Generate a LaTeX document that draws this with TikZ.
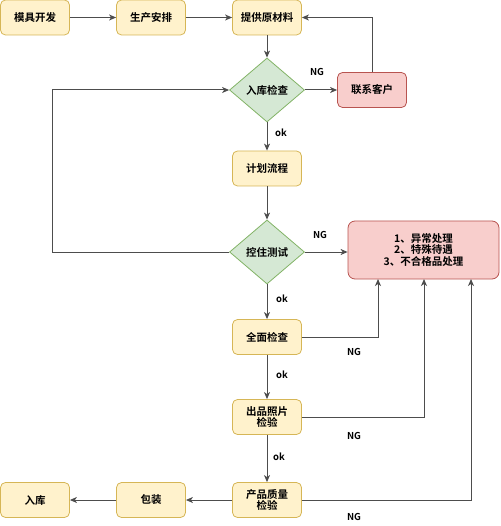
\documentclass[tikz,border=0pt]{standalone}
\usepackage{fontspec}
\setmainfont{Noto Sans CJK SC}[BoldFont={* Bold}]
\usetikzlibrary{arrows.meta,shapes.geometric}
\definecolor{yfill}{HTML}{FFF2CC}
\definecolor{ydraw}{HTML}{D6B656}
\definecolor{gfill}{HTML}{D5E8D4}
\definecolor{gdraw}{HTML}{82B366}
\definecolor{pfill}{HTML}{F8CECC}
\definecolor{pdraw}{HTML}{B85450}
\definecolor{lc}{HTML}{4D4D4D}
\tikzset{
  ybox/.style={draw=ydraw,fill=yfill,rounded corners=5pt,minimum width=69pt,minimum height=35pt,inner sep=1pt,align=center,font=\bfseries\fontsize{10.5pt}{11.5pt}\selectfont,line width=0.8pt},
  pbox/.style={draw=pdraw,fill=pfill,rounded corners=7pt,minimum width=151pt,minimum height=58pt,inner sep=1pt,align=center,font=\bfseries\fontsize{10.5pt}{11.5pt}\selectfont,line width=0.8pt},
  dia/.style={draw=gdraw,fill=gfill,diamond,minimum width=75pt,minimum height=64pt,inner sep=0pt,aspect=1.17,font=\bfseries\fontsize{10.5pt}{11pt}\selectfont,line width=0.8pt},
  conn/.style={draw=lc,line width=1pt,-{Stealth[length=7pt,width=6pt,inset=2pt]}},
  lbl/.style={font=\bfseries\fontsize{9.5pt}{10pt}\selectfont,text=black,inner sep=0pt}
}
\begin{document}
\begin{tikzpicture}[x=1pt,y=-1pt]
\useasboundingbox (0,0) rectangle (500,526);
\node[ybox] (mj) at (35,17.5) {模具开发};
\node[ybox] (sc) at (151,17.5) {生产安排};
\node[ybox] (tg) at (267,17.5) {提供原材料};
\node[dia] (rk) at (267,90) {入库检查};
\node[ybox,draw=pdraw,fill=pfill] (lx) at (372,90) {联系客户};
\node[ybox] (jh) at (267,168.5) {计划流程};
\node[dia] (kz) at (267,252) {控住测试};
\node[pbox] (yc) at (423.5,250) {1、异常处理\\2、特殊待遇\\3、不合格品处理};
\node[ybox] (qm) at (267,337) {全面检查};
\node[ybox] (cp) at (267,417) {出品照片\\检验};
\node[ybox] (zl) at (267,500) {产品质量\\检验};
\node[ybox] (bz) at (151,500) {包装};
\node[ybox] (rku) at (35,500) {入库};

\draw[conn] (mj) -- (sc);
\draw[conn] (sc) -- (tg);
\draw[conn] (tg) -- (rk);
\draw[conn] (rk) -- (lx);
\draw[conn] (lx.north) |- (tg.east);
\draw[conn] (rk) -- (jh);
\draw[conn] (jh) -- (kz);
\draw[conn] (kz) -- (kz -| yc.west);
\draw[conn] (kz.west) -- (52,252) |- (rk.west);
\draw[conn] (kz) -- (qm);
\draw[conn] (qm) -- (cp);
\draw[conn] (cp) -- (zl);
\draw[conn] (zl) -- (bz);
\draw[conn] (bz) -- (rku);
\draw[conn] (qm.east) -| (378,279);
\draw[conn] (cp.east) -| (424,279);
\draw[conn] (zl.east) -| (471,279);

\node[lbl] at (317,72) {NG};
\node[lbl] at (281,133) {ok};
\node[lbl] at (320,235) {NG};
\node[lbl] at (282,299) {ok};
\node[lbl] at (354,352) {NG};
\node[lbl] at (282,375) {ok};
\node[lbl] at (354,436) {NG};
\node[lbl] at (279,457) {ok};
\node[lbl] at (354,517) {NG};
\end{tikzpicture}
\end{document}
